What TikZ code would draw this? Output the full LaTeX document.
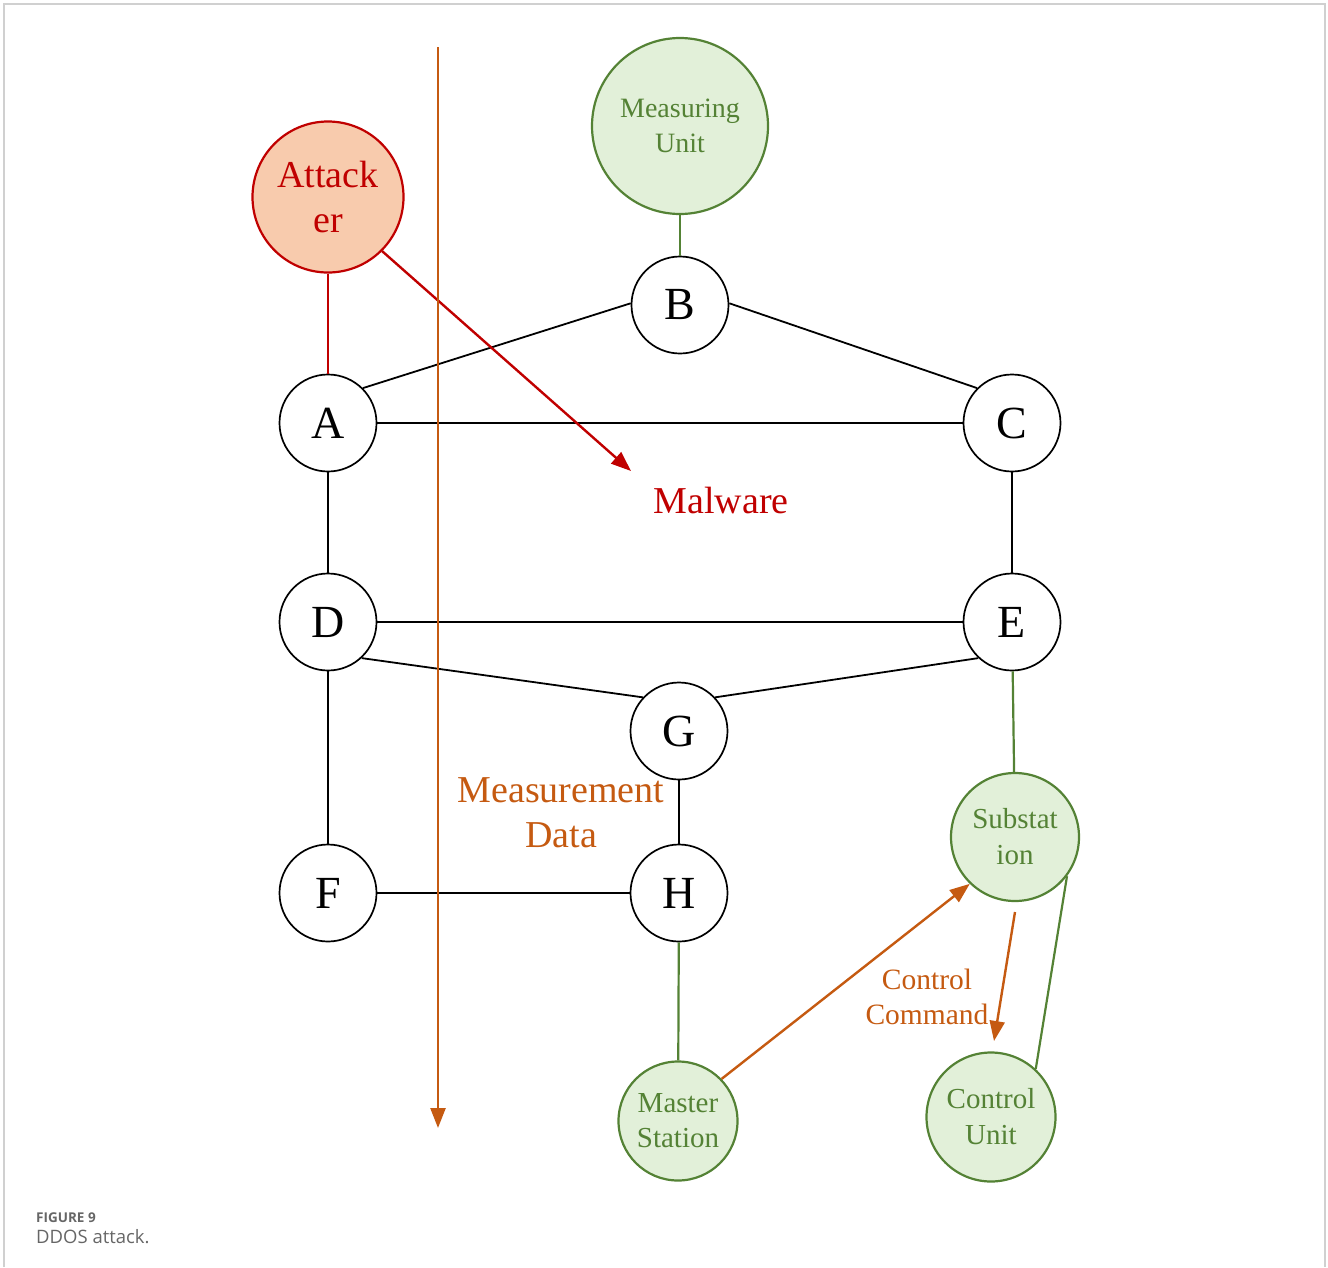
\documentclass[tikz,border=0pt]{standalone}
\usepackage{fontspec}
\setmainfont{Liberation Serif}
\newfontfamily\capfont{Open Sans}
\usetikzlibrary{arrows.meta}
\definecolor{atkred}{HTML}{C00000}
\definecolor{atkfill}{HTML}{F8CBAD}
\definecolor{grn}{HTML}{548235}
\definecolor{grnfill}{HTML}{E2F0D9}
\definecolor{org}{HTML}{C55A11}
\definecolor{framegray}{HTML}{D0D0D0}
\definecolor{capgray}{HTML}{666666}
\begin{document}
\begin{tikzpicture}[x=1pt,y=-1pt,
  bus/.style={circle,draw=black,line width=1.7pt,fill=white,inner sep=0pt,
    minimum size=97pt,font=\fontsize{46}{46}\selectfont},
  dev/.style={circle,draw=grn,line width=2.2pt,fill=grnfill,inner sep=0pt,
    align=center,text=grn,font=\fontsize{28}{35}\selectfont},
  link/.style={line width=1.8pt,black},
  glink/.style={line width=2.2pt,grn},
  tip/.style={-{Triangle[length=20pt,width=15pt]}},
  flow/.style={line width=2.4pt,org,tip},
  lbl/.style={inner sep=0pt,align=center}]
\useasboundingbox (0,0) rectangle (1328,1267);
% open page frame
\draw[framegray,line width=1.5pt] (4,1267) -- (4,4) -- (1325,4) -- (1325,1267);

% bus nodes
\node[bus] (A) at (328,423) {A};
\node[bus] (B) at (680,305) {B};
\node[bus] (C) at (1012,423) {C};
\node[bus] (D) at (328,622) {D};
\node[bus] (E) at (1012,622) {E};
\node[bus] (G) at (679,731) {G};
\node[bus] (F) at (328,893) {F};
\node[bus] (H) at (679,893) {H};

% devices
\node[dev,minimum size=176pt] (MU) at (680,126) {Measuring\\Unit};
\node[circle,draw=atkred,line width=2.2pt,fill=atkfill,inner sep=0pt,minimum size=151pt,
  align=center,text=atkred,font=\fontsize{38}{45}\selectfont] (ATK) at (328,197) {Attack\\er};
\node[dev,minimum size=128pt,font=\fontsize{29}{36}\selectfont] (SUB) at (1015,837) {Substat\\ion};
\node[dev,minimum size=119pt,font=\fontsize{29}{35}\selectfont] (MS) at (678,1121) {Master\\Station};
\node[dev,minimum size=129pt,font=\fontsize{29}{36}\selectfont] (CU) at (991,1117) {Control\\Unit};

% labels
\node[lbl,text=atkred,font=\fontsize{38}{45}\selectfont] (MAL) at (721,500) {Malware};
\node[lbl,text=org,font=\fontsize{38}{45}\selectfont] (MD) at (561,813) {Measurement\\Data};
\node[lbl,text=org,font=\fontsize{29.5}{35}\selectfont] (CC) at (927,997) {Control\\Command};

% caption
\node[anchor=base west,inner sep=0pt,text=capgray,font=\capfont\bfseries\fontsize{13.5}{13.5}\selectfont] (FIG) at (36,1222) {FIGURE 9};
\node[anchor=base west,inner sep=0pt,text=capgray,font=\capfont\fontsize{18.5}{18.5}\selectfont] (CAP) at (36,1243) {DDOS attack.};

% free ends of arrows
\coordinate (malTip) at (631,471);
\coordinate (ddTop) at (438,47);
\coordinate (ddTip) at (438,1128);
\coordinate (ccStart) at (1015,912);
\coordinate (ccTip) at (994,1041);

% network links
\draw[link] (A.45) -- (B.178);
\draw[link] (B.2) -- (C.135);
\draw[link] (A) -- (C);
\draw[link] (A) -- (D);
\draw[link] (C) -- (E);
\draw[link] (D) -- (E);
\draw[link] (D.-47) -- (G.137);
\draw[link] (E.-133) -- (G.43);
\draw[link] (G) -- (H);
\draw[link] (D) -- (F);
\draw[link] (F) -- (H);
\draw[glink] (MU) -- (B);
\draw[glink] (E) -- (SUB);
\draw[glink] (H) -- (MS);
\draw[glink] (SUB.-37) -- (CU.47);
\draw[line width=2.2pt,atkred] (ATK) -- (A);

% flows
\draw[line width=2.4pt,atkred,tip] (ATK.-45) -- (malTip);
\draw[flow] (ddTop) -- (ddTip);
\draw[flow] (MS.44) -- (SUB.226);
\draw[flow] (ccStart) -- (ccTip);
\end{tikzpicture}
\end{document}
